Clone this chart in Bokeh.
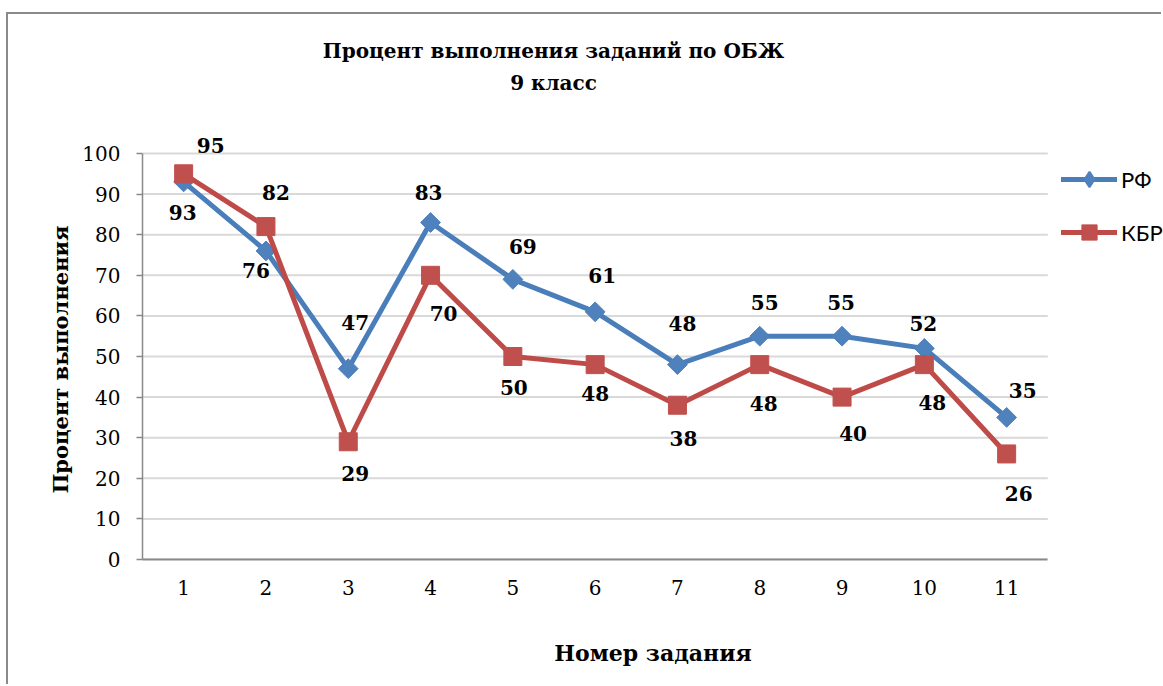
from bokeh.plotting import figure
from bokeh.models import ColumnDataSource, FixedTicker, Legend, LegendItem, Label, Range1d, Title
from bokeh.core.properties import value
from bokeh.embed import file_html
from bokeh.resources import INLINE

# ---------------- data ----------------
categories = [1, 2, 3, 4, 5, 6, 7, 8, 9, 10, 11]
rf = [93, 76, 47, 83, 69, 61, 48, 55, 55, 52, 35]
kbr = [95, 82, 29, 70, 50, 48, 38, 48, 40, 48, 26]
y_ticks = [0, 10, 20, 30, 40, 50, 60, 70, 80, 90, 100]
series_names = ["РФ", "КБР"]
title_lines = ["Процент выполнения заданий по ОБЖ", "9 класс"]
x_title = "Номер задания"
y_title = "Процент выполнения"

# ---------------- styles / layout ----------------
rf_dx = [-1, -10, 7, -2, 10, 7, 5, 5, -1, -1, 16]
rf_dy = [31, 20, -46, -30, -33, -36, -41, -34, -34, -25, -27]
kbr_dx = [27, 10, 7, 13, 1, 0, 6, 4, 11, 8, 12]
kbr_dy = [-28, -34, 32, 38, 31, 29, 33, 39, 36, 38, 40]

BLUE_LINE, BLUE_FILL = "#4A7EBB", "#4F81BD"
RED_LINE, RED_FILL = "#BE4B48", "#C0504D"
AXIS = "#898989"
GRID = "#D9D9D9"
SERIF = "DejaVu Serif"

ORIGIN_X, ORIGIN_Y = 8, 14          # page position of the canvas (after margin + border)
W, H = 1163 - ORIGIN_X, 686 - ORIGIN_Y
FRAME_L, FRAME_B = 142, 559
PX_PER_CAT = 82.3
PX_PER_UNIT = 4.06
Y_TITLE_START = 493                 # page y where the rotated y title begins

x_start = categories[0] - 0.5
x_end = x_start + (ORIGIN_X + W - FRAME_L) / PX_PER_CAT
y_end = (FRAME_B - ORIGIN_Y) / PX_PER_UNIT


def page_x(px):
    return x_start + (px - FRAME_L) / PX_PER_CAT


def page_y(py):
    return (FRAME_B - py) / PX_PER_UNIT


p = figure(width=W, height=H, output_backend="svg", toolbar_location=None,
           x_range=Range1d(x_start, x_end), y_range=Range1d(0, y_end),
           min_border_left=FRAME_L - ORIGIN_X, min_border_bottom=ORIGIN_Y + H - FRAME_B,
           min_border_top=0, min_border_right=0, title=None,
           styles={"margin-left": "6px", "margin-top": "12px",
                   "border-left": "2px solid #8A8A8A", "border-top": "2px solid #8A8A8A"})
p.outline_line_color = None
p.background_fill_color = "white"
p.border_fill_color = "white"
p.xgrid.visible = False
p.ygrid.visible = False

gx0 = [categories[0] - 0.5] * len(y_ticks)
gx1 = [categories[-1] + 0.5] * len(y_ticks)
p.segment(x0=gx0, x1=gx1, y0=y_ticks, y1=y_ticks, line_color=GRID, line_width=2, level="underlay")

xa = p.xaxis[0]
xa.ticker = FixedTicker(ticks=categories)
xa.bounds = (categories[0] - 0.5, categories[-1] + 0.5)
xa.axis_line_color = AXIS
xa.axis_line_width = 2
xa.major_tick_line_color = None
xa.minor_tick_line_color = None
xa.major_tick_out = 0
xa.major_tick_in = 0
xa.major_label_text_font = SERIF
xa.major_label_text_font_size = "20px"
xa.major_label_text_color = "black"
xa.major_label_standoff = 20
xa.axis_label = x_title
xa.axis_label_text_font = SERIF
xa.axis_label_text_font_style = "bold"
xa.axis_label_text_font_size = "22px"
xa.axis_label_text_color = "black"
xa.axis_label_standoff = 42

ya = p.yaxis[0]
ya.ticker = FixedTicker(ticks=y_ticks)
ya.bounds = (y_ticks[0], y_ticks[-1])
ya.axis_line_color = AXIS
ya.axis_line_width = 1.5
ya.major_tick_line_color = AXIS
ya.major_tick_line_width = 1.5
ya.major_tick_out = 6
ya.major_tick_in = 0
ya.minor_tick_line_color = None
ya.major_label_text_font = SERIF
ya.major_label_text_font_size = "20px"
ya.major_label_text_color = "black"
ya.major_label_standoff = 16

# y-axis title as a side title, anchored so it sits centred on the 0..100 span
p.add_layout(Title(text=y_title, align="left", offset=FRAME_B - Y_TITLE_START,
                   standoff=13, text_font=SERIF, text_font_style="bold",
                   text_font_size="21px", text_color="black"), "left")

src_rf = ColumnDataSource(dict(x=categories, y=rf, t=[str(v) for v in rf], dx=rf_dx, dy=rf_dy))
src_kbr = ColumnDataSource(dict(x=categories, y=kbr, t=[str(v) for v in kbr], dx=kbr_dx, dy=kbr_dy))

l_rf = p.line("x", "y", source=src_rf, line_color=BLUE_LINE, line_width=5,
              line_join="round", line_cap="round")
m_rf = p.scatter("x", "y", source=src_rf, marker="square", angle=0.785398, size=14,
                 fill_color=BLUE_FILL, line_color=BLUE_FILL)
l_kbr = p.line("x", "y", source=src_kbr, line_color=RED_LINE, line_width=5,
               line_join="round", line_cap="round")
m_kbr = p.scatter("x", "y", source=src_kbr, marker="square", size=18,
                  fill_color=RED_FILL, line_color=RED_FILL)
# hidden diamond renderer used only for the legend swatch
m_rf_key = p.scatter("x", "y", source=src_rf, marker="diamond", size=14,
                     fill_color=BLUE_FILL, line_color=BLUE_FILL, line_width=2, visible=False)

for src in (src_rf, src_kbr):
    p.text("x", "y", text="t", source=src, x_offset="dx", y_offset="dy",
           text_align="center", text_baseline="middle", text_font=value(SERIF),
           text_font_style="bold", text_font_size="20px", text_color="black")

for line, py in zip(title_lines, (50, 82)):
    p.add_layout(Label(x=page_x(553), y=page_y(py), text=line, text_align="center",
                       text_baseline="middle", text_font=SERIF, text_font_style="bold",
                       text_font_size="20px", text_color="black"))

legend = Legend(items=[LegendItem(label=series_names[0], renderers=[l_rf, m_rf_key]),
                       LegendItem(label=series_names[1], renderers=[l_kbr, m_kbr])],
                location=(1061 - FRAME_L, FRAME_B - 251), orientation="vertical",
                glyph_width=56, glyph_height=38, label_height=38, spacing=15,
                label_standoff=4, padding=0, margin=0, border_line_color=None,
                background_fill_alpha=0, inactive_fill_alpha=0, label_text_font="Lato",
                label_text_font_size="22px", label_text_color="black")
p.add_layout(legend)

open("out.html", "w").write(file_html(p, INLINE))
